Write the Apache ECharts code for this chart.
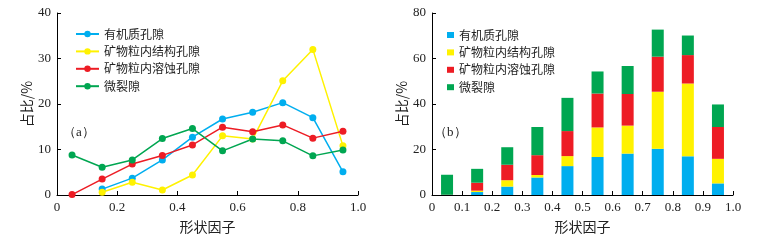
<!DOCTYPE html>
<html>
<head>
<meta charset="utf-8">
<script src="https://cdn.jsdelivr.net/npm/echarts@6/dist/echarts.min.js"></script>
<style>
  html, body { margin: 0; padding: 0; background: #fff; }
  #chart { width: 762px; height: 241px; }
</style>
</head>
<body>
<div id="chart"></div>
<script>
// 形状因子分组中心
const shapeFactor = [0.05, 0.15, 0.25, 0.35, 0.45, 0.55, 0.65, 0.75, 0.85, 0.95];
const seriesNames = ["有机质孔隙", "矿物粒内结构孔隙", "矿物粒内溶蚀孔隙", "微裂隙"];
const organic = [null, 1.3, 3.7, 7.7, 12.7, 16.7, 18.2, 20.3, 17.0, 5.1];
const structural = [null, 0.6, 2.8, 1.1, 4.4, 13.0, 12.3, 25.1, 32.0, 10.8];
const dissolution = [0.1, 3.5, 6.8, 8.7, 11.0, 14.9, 13.9, 15.4, 12.5, 14.0];
const fracture = [8.8, 6.1, 7.7, 12.4, 14.6, 9.7, 12.3, 11.9, 8.6, 9.9];
const colors = ["#00aeef", "#fff200", "#ed1c24", "#00a651"];

const allData = [organic, structural, dissolution, fracture];
const numFont = "Liberation Serif";
const cjkFont = "Noto Sans CJK SC";
const fmt = (v) => (v === 0 ? "0" : v.toFixed(1));

function xAxisOpt(idx, interval) {
  return {
    type: "value",
    gridIndex: idx,
    min: 0,
    max: 1,
    interval: interval,
    name: "形状因子",
    nameLocation: "middle",
    nameGap: 25,
    nameTextStyle: { fontFamily: cjkFont, fontSize: 14, color: "#222" },
    axisLine: { lineStyle: { color: "#000", width: 1 } },
    axisTick: { inside: true, length: 4, lineStyle: { color: "#000" } },
    axisLabel: {
      margin: 6,
      color: "#222",
      fontFamily: numFont,
      fontSize: 13,
      formatter: fmt,
    },
    splitLine: { show: false },
  };
}

function yAxisOpt(idx, max, interval) {
  return {
    type: "value",
    gridIndex: idx,
    min: 0,
    max: max,
    interval: interval,
    name: "占比/%",
    nameLocation: "middle",
    nameGap: 22,
    nameTextStyle: { fontFamily: cjkFont, fontSize: 14, color: "#222" },
    axisLine: { show: true, lineStyle: { color: "#000", width: 1 } },
    axisTick: { show: true, inside: true, length: 4, lineStyle: { color: "#000" } },
    axisLabel: { margin: 6, color: "#222", fontFamily: numFont, fontSize: 13 },
    splitLine: { show: false },
  };
}

const lineSeries = allData.map((arr, i) => ({
  name: seriesNames[i],
  type: "line",
  xAxisIndex: 0,
  yAxisIndex: 0,
  symbol: "circle",
  symbolSize: 7,
  lineStyle: { width: 1.5, color: colors[i] },
  itemStyle: { color: colors[i] },
  data: shapeFactor
    .map((x, j) => [x, arr[j]])
    .filter((p) => p[1] !== null),
}));

// 堆叠柱状图用类目轴, 刻度标签由叠加的数值轴给出
const barSeries = allData.map((arr, i) => ({
  name: seriesNames[i] + " ",
  type: "bar",
  stack: "total",
  xAxisIndex: 2,
  yAxisIndex: 1,
  barWidth: 12,
  itemStyle: { color: colors[i] },
  data: arr.map((v) => (v === null ? 0 : v)),
}));

const option = {
  animation: false,
  color: colors,
  grid: [
    { left: 57, top: 13, width: 301, height: 182 },
    { left: 432, top: 13, width: 301, height: 182 },
  ],
  xAxis: [
    xAxisOpt(0, 0.2),
    xAxisOpt(1, 0.1),
    {
      type: "category",
      gridIndex: 1,
      data: shapeFactor.map(String),
      boundaryGap: true,
      axisLine: { show: false },
      axisTick: { show: false },
      axisLabel: { show: false },
    },
  ],
  yAxis: [yAxisOpt(0, 40, 10), yAxisOpt(1, 80, 20)],
  legend: [
    {
      data: seriesNames,
      orient: "vertical",
      left: 75,
      top: 27,
      padding: 0,
      itemWidth: 23,
      itemHeight: 8,
      itemGap: 3.4,
      textStyle: { fontFamily: cjkFont, fontSize: 12, lineHeight: 14, color: "#222" },
    },
    {
      data: seriesNames.map((n) => n + " "),
      orient: "vertical",
      left: 447,
      top: 28,
      padding: 0,
      icon: "rect",
      itemWidth: 7,
      itemHeight: 6,
      itemGap: 3.4,
      itemStyle: { borderWidth: 0 },
      formatter: (n) => n.trim(),
      textStyle: { fontFamily: cjkFont, fontSize: 12, lineHeight: 14, color: "#222" },
    },
  ],
  graphic: [
    {
      type: "text",
      left: 63,
      top: 126,
      style: { text: "（a）", fill: "#222", font: "13px 'Liberation Serif'" },
    },
    {
      type: "text",
      left: 434,
      top: 126,
      style: { text: "（b）", fill: "#222", font: "13px 'Liberation Serif'" },
    },
  ],
  series: [...lineSeries, ...barSeries],
};

echarts.init(document.getElementById("chart")).setOption(option);
</script>
</body>
</html>
